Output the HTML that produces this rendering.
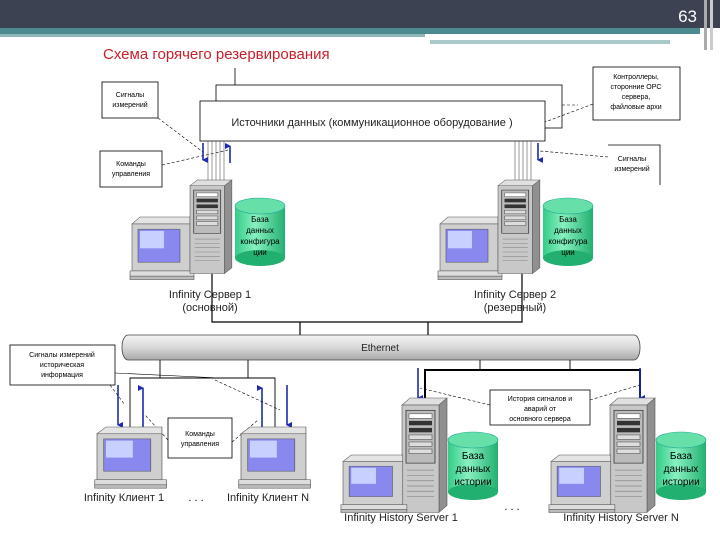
<!DOCTYPE html>
<html><head><meta charset="utf-8"><style>
html,body{margin:0;padding:0;background:#fff}
svg{display:block}
text{font-family:"Liberation Sans","DejaVu Sans",sans-serif}
</style></head><body>
<svg width="720" height="540" viewBox="0 0 720 540" xmlns="http://www.w3.org/2000/svg">
<defs>
<linearGradient id="eth" x1="0" y1="0" x2="0" y2="1">
<stop offset="0" stop-color="#f4f4f4"/><stop offset="0.5" stop-color="#d8d8d8"/><stop offset="1" stop-color="#a8a8a8"/></linearGradient>
<linearGradient id="cyl" x1="0" y1="0" x2="1" y2="0">
<stop offset="0" stop-color="#33cc88"/><stop offset="0.4" stop-color="#88f0c0"/><stop offset="1" stop-color="#22b070"/></linearGradient>
<g id="tower">
<polygon points="0,8 8,0 45,0 37,8" fill="#e0e0e0" stroke="#555" stroke-width="0.6"/>
<polygon points="37,8 45,0 45,122 37,130" fill="#909090" stroke="#555" stroke-width="0.6"/>
<rect x="0" y="8" width="37" height="122" fill="#c8c8c8" stroke="#555" stroke-width="0.6"/>
<rect x="4" y="14" width="29" height="60" fill="#bbb" stroke="#333" stroke-width="0.8"/>
<rect x="7" y="18" width="23" height="5" fill="#fff" stroke="#333" stroke-width="0.5"/>
<rect x="7" y="26" width="23" height="5" fill="#333"/>
<rect x="7" y="34" width="23" height="5" fill="#333"/>
<rect x="7" y="42" width="23" height="5" fill="#ddd" stroke="#333" stroke-width="0.5"/>
<rect x="7" y="50" width="23" height="5" fill="#ddd" stroke="#333" stroke-width="0.5"/>
<rect x="7" y="58" width="23" height="5" fill="#ddd" stroke="#333" stroke-width="0.5"/>
<g stroke="#888" stroke-width="0.8"><line x1="5" y1="82" x2="32" y2="82"/><line x1="5" y1="88" x2="32" y2="88"/><line x1="5" y1="94" x2="32" y2="94"/><line x1="5" y1="100" x2="32" y2="100"/><line x1="5" y1="106" x2="32" y2="106"/><line x1="5" y1="112" x2="32" y2="112"/></g>
</g>
<g id="mon">
<polygon points="0,8 8,0 58,0 58,8" fill="#e4e4e4" stroke="#555" stroke-width="0.6"/>
<rect x="0" y="8" width="58" height="54" fill="#cfcfcf" stroke="#555" stroke-width="0.6"/>
<rect x="6" y="14" width="42" height="38" fill="#8888ee" stroke="#555" stroke-width="0.6"/>
<rect x="8" y="16" width="24" height="20" fill="#c8d0ff"/>
<rect x="-2" y="62" width="64" height="6" fill="#ddd" stroke="#555" stroke-width="0.6"/>
<rect x="-2" y="68" width="64" height="4" fill="#bbb" stroke="#555" stroke-width="0.6"/>
</g>
<g id="cylg">
<rect x="0" y="8" width="50" height="52" fill="url(#cyl)"/>
<ellipse cx="25" cy="60" rx="25" ry="8" fill="#22b070"/>
<ellipse cx="25" cy="8" rx="25" ry="8" fill="#66e0a8" stroke="#2a9" stroke-width="0.6"/>
</g>
<marker id="ah" markerWidth="6" markerHeight="6" refX="3" refY="5" orient="auto-start-reverse" markerUnits="userSpaceOnUse"><path d="M0,0 L6,0 L3,6z" fill="#1e2ab0"/></marker>
</defs>

<rect x="0" y="0" width="720" height="28" fill="#3d4252"/>
<rect x="0" y="28" width="700" height="6" fill="#4b8a8e"/>
<rect x="0" y="34" width="425" height="3" fill="#8fb8ba"/>
<rect x="430" y="40" width="240" height="4" fill="#a9c9cb"/>
<rect x="704" y="0" width="3" height="50" fill="#aaa"/>
<rect x="710" y="0" width="3" height="50" fill="#ccc"/>
<text x="697" y="22" font-family="Liberation Serif" font-size="17" fill="#fff" text-anchor="end">63</text>

<text x="103" y="59" font-size="15" fill="#c8202a">Схема горячего резервирования</text>

<line x1="235" y1="68" x2="235" y2="86" stroke="#000" stroke-width="0.8"/>
<rect x="216" y="85" width="346" height="43" fill="#fff" stroke="#000" stroke-width="0.8"/>
<rect x="200" y="101" width="345" height="40" fill="#fff" stroke="#000" stroke-width="0.8"/>
<text x="372" y="126" font-size="11" text-anchor="middle" fill="#222">Источники данных (коммуникационное оборудование )</text>

<rect x="102" y="82" width="56" height="36" fill="#fff" stroke="#000" stroke-width="0.8"/>
<text x="130" y="97" font-size="7" text-anchor="middle">Сигналы</text>
<text x="130" y="107" font-size="7" text-anchor="middle">измерений</text>
<rect x="100" y="151" width="62" height="36" fill="#fff" stroke="#000" stroke-width="0.8"/>
<text x="131" y="166" font-size="7" text-anchor="middle">Команды</text>
<text x="131" y="176" font-size="7" text-anchor="middle">управления</text>
<rect x="593" y="67" width="87" height="53" fill="#fff" stroke="#000" stroke-width="0.8"/>
<text x="636" y="79" font-size="7" text-anchor="middle">Контроллеры,</text>
<text x="636" y="89" font-size="7" text-anchor="middle">сторонние OPC</text>
<text x="636" y="99" font-size="7" text-anchor="middle">сервера,</text>
<text x="636" y="109" font-size="7" text-anchor="middle">файловые архи</text>
<path d="M608,145 H660 V185" fill="none" stroke="#000" stroke-width="0.8"/>
<text x="632" y="161" font-size="7" text-anchor="middle">Сигналы</text>
<text x="632" y="171" font-size="7" text-anchor="middle">измерений</text>

<g stroke="#000" stroke-width="0.6" stroke-dasharray="3,2" fill="none">
<line x1="158" y1="118" x2="203" y2="152"/>
<line x1="162" y1="165" x2="228" y2="150"/>
<line x1="593" y1="104" x2="545" y2="122"/>
<line x1="608" y1="157" x2="540" y2="151"/>
<line x1="562" y1="105" x2="578" y2="105"/>
</g>

<g stroke="#555" stroke-width="0.6">
<line x1="208" y1="141" x2="208" y2="182"/><line x1="212" y1="141" x2="212" y2="182"/><line x1="216" y1="141" x2="216" y2="182"/><line x1="220" y1="141" x2="220" y2="182"/><line x1="224" y1="141" x2="224" y2="182"/>
<line x1="515" y1="141" x2="515" y2="182"/><line x1="519" y1="141" x2="519" y2="182"/><line x1="523" y1="141" x2="523" y2="182"/><line x1="527" y1="141" x2="527" y2="182"/><line x1="531" y1="141" x2="531" y2="182"/>
</g>
<g stroke="#1e2ab0" stroke-width="1.6">
<line x1="203" y1="143" x2="203" y2="160" marker-end="url(#ah)"/>
<line x1="230" y1="163" x2="230" y2="146" marker-end="url(#ah)"/>
<line x1="538" y1="143" x2="538" y2="160" marker-end="url(#ah)"/>
</g>

<g stroke="#000" stroke-width="1.2" fill="none">
<path d="M212,272 V322 H522 V272"/>
<line x1="300" y1="322" x2="300" y2="336"/><line x1="428" y1="322" x2="428" y2="336"/>
</g>

<g transform="translate(132,217) scale(1,0.87)"><use href="#mon"/></g>
<g transform="translate(190,180) scale(0.93,0.72)"><use href="#tower"/></g>
<use href="#cylg" x="235" y="198"/>
<text x="260" y="222" font-size="8" text-anchor="middle">База</text>
<text x="260" y="233" font-size="8" text-anchor="middle">данных</text>
<text x="260" y="244" font-size="8" text-anchor="middle">конфигура</text>
<text x="260" y="255" font-size="8" text-anchor="middle">ции</text>
<g transform="translate(440,217) scale(1,0.87)"><use href="#mon"/></g>
<g transform="translate(498,180) scale(0.93,0.72)"><use href="#tower"/></g>
<use href="#cylg" x="543" y="198"/>
<text x="568" y="222" font-size="8" text-anchor="middle">База</text>
<text x="568" y="233" font-size="8" text-anchor="middle">данных</text>
<text x="568" y="244" font-size="8" text-anchor="middle">конфигура</text>
<text x="568" y="255" font-size="8" text-anchor="middle">ции</text>

<text x="210" y="298" font-size="11" text-anchor="middle" fill="#222">Infinity Сервер 1</text>
<text x="210" y="311" font-size="11" text-anchor="middle" fill="#222">(основной)</text>
<text x="515" y="298" font-size="11" text-anchor="middle" fill="#222">Infinity Сервер 2</text>
<text x="515" y="311" font-size="11" text-anchor="middle" fill="#222">(резервный)</text>

<rect x="122" y="335" width="518" height="25" rx="6" ry="12" fill="url(#eth)" stroke="#444" stroke-width="0.8"/>
<text x="380" y="351" font-size="10" text-anchor="middle" fill="#222">Ethernet</text>

<g stroke="#000" stroke-width="0.9" fill="none">
<line x1="160" y1="360" x2="160" y2="378"/><line x1="248" y1="360" x2="248" y2="378"/>
<path d="M130,430 V378 H275 V430"/>
<line x1="480" y1="360" x2="480" y2="370"/><line x1="570" y1="360" x2="570" y2="370"/>
</g>
<path d="M425,400 V370 H640 V398" fill="none" stroke="#000" stroke-width="2"/>
<g stroke="#1e2ab0" stroke-width="1.6">
<line x1="118" y1="385" x2="118" y2="425" marker-end="url(#ah)"/>
<line x1="143" y1="427" x2="143" y2="388" marker-end="url(#ah)"/>
<line x1="262" y1="427" x2="262" y2="388" marker-end="url(#ah)"/>
<line x1="287" y1="385" x2="287" y2="425" marker-end="url(#ah)"/>
<line x1="418" y1="368" x2="418" y2="398" marker-end="url(#ah)"/>
<line x1="640" y1="368" x2="640" y2="398" marker-end="url(#ah)"/>
</g>

<rect x="10" y="345" width="105" height="40" fill="#fff" stroke="#000" stroke-width="0.8"/>
<text x="62" y="357" font-size="7" text-anchor="middle">Сигналы измерений</text>
<text x="62" y="367" font-size="7" text-anchor="middle">историческая</text>
<text x="62" y="377" font-size="7" text-anchor="middle">информация</text>
<rect x="168" y="418" width="64" height="40" fill="#fff" stroke="#000" stroke-width="0.8"/>
<text x="200" y="436" font-size="7" text-anchor="middle">Команды</text>
<text x="200" y="446" font-size="7" text-anchor="middle">управления</text>
<rect x="490" y="390" width="100" height="35" fill="#fff" stroke="#000" stroke-width="0.8"/>
<text x="540" y="401" font-size="7" text-anchor="middle">История сигналов и</text>
<text x="540" y="411" font-size="7" text-anchor="middle">аварий от</text>
<text x="540" y="421" font-size="7" text-anchor="middle">основного сервера</text>
<g stroke="#000" stroke-width="0.6" stroke-dasharray="3,2" fill="none">
<line x1="110" y1="385" x2="125" y2="405"/>
<line x1="115" y1="373" x2="220" y2="378" stroke-dasharray="none"/>
<line x1="215" y1="380" x2="280" y2="410"/>
<line x1="168" y1="440" x2="145" y2="415"/>
<line x1="232" y1="442" x2="258" y2="420"/>
<line x1="490" y1="405" x2="420" y2="388"/>
<line x1="590" y1="400" x2="640" y2="385"/>
</g>

<g transform="translate(97,427) scale(1.12,0.85)"><use href="#mon"/></g>
<g transform="translate(241,427) scale(1.12,0.85)"><use href="#mon"/></g>
<text x="124" y="501" font-size="11" text-anchor="middle" fill="#222">Infinity Клиент 1</text>
<text x="196" y="501" font-size="11" text-anchor="middle">. . .</text>
<text x="268" y="501" font-size="11" text-anchor="middle" fill="#222">Infinity Клиент N</text>

<g transform="translate(402,398) scale(1,0.88)"><use href="#tower"/></g>
<g transform="translate(343,455) scale(1.03,0.8)"><use href="#mon"/></g>
<use href="#cylg" x="448" y="432"/>
<text x="473" y="459" font-size="10" text-anchor="middle">База</text>
<text x="473" y="472" font-size="10" text-anchor="middle">данных</text>
<text x="473" y="485" font-size="10" text-anchor="middle">истории</text>
<g transform="translate(610,398) scale(1,0.88)"><use href="#tower"/></g>
<g transform="translate(551,455) scale(1.03,0.8)"><use href="#mon"/></g>
<use href="#cylg" x="656" y="432"/>
<text x="681" y="459" font-size="10" text-anchor="middle">База</text>
<text x="681" y="472" font-size="10" text-anchor="middle">данных</text>
<text x="681" y="485" font-size="10" text-anchor="middle">истории</text>
<text x="512" y="510" font-size="11" text-anchor="middle">. . .</text>
<text x="401" y="521" font-size="11" text-anchor="middle" fill="#222">Infinity History Server 1</text>
<text x="621" y="521" font-size="11" text-anchor="middle" fill="#222">Infinity History Server N</text>
</svg>
</body></html>
